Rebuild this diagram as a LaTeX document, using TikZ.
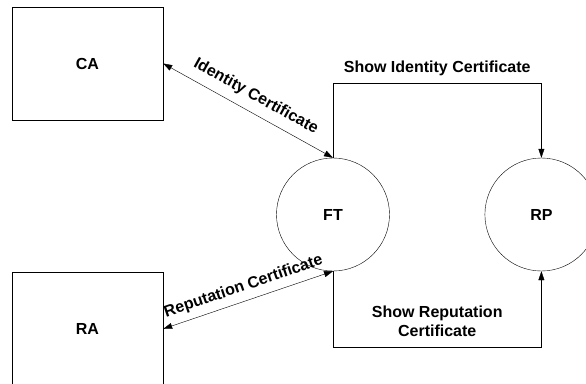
\documentclass[tikz,border=0pt]{standalone}
\usepackage{fontspec}
\setmainfont{Liberation Sans}
\usepackage{tikz}
\usetikzlibrary{arrows.meta, positioning}
\tikzset{>={Triangle[length=9pt,width=6pt]},
    x=1pt, y=-1pt, line width=0.7pt,
    every node/.style={font=\fontsize{16}{19}\selectfont\bfseries},
    authority/.style={rectangle,draw,minimum width=151pt,minimum height=113pt},
    party/.style={circle,draw,minimum size=113pt,inner sep=0pt},
    textnode/.style={}}

\begin{document}
\begin{tikzpicture}
\clip (0,0) rectangle (586,383);
\node[authority] (ca)  at (87.5,63.5)      {CA};
\node[authority] (ra)  [below=152pt of ca] {RA};
\node[party]     (ft)  at (333,214.5)      {FT};
\node[party]     (rp)  [right=95pt of ft]  {RP};
\path[<->]
    (ca.east) edge node[sloped,above=5pt] {Identity Certificate}   (ft.north)
    (ra.east) edge node[sloped,above=3pt] {Reputation Certificate} (ft.south);
\draw[->] (ft.north) -- ++(0,-75) -| node[pos=0.25,above=3pt] {Show Identity Certificate} (rp.north);
\draw[->] (ft.south) -- ++(0,76)  -| node[pos=0.25,above=7pt,align=center] {Show Reputation\\Certificate} (rp.south);
\end{tikzpicture}
\end{document}
